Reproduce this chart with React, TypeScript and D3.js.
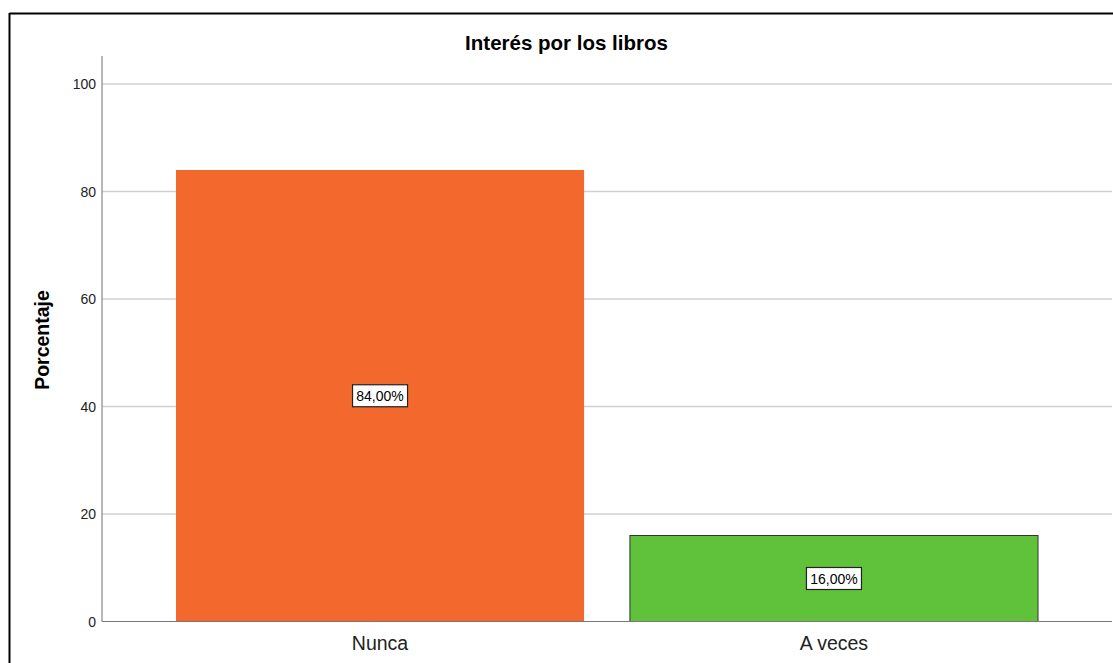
import React from "react";
import * as d3 from "d3";

const categories = ["Nunca", "A veces"];
const values = [84, 16];
const labels = ["84,00%", "16,00%"];
const colors = ["#F3692D", "#60C23B"];
const yTicks = [0, 20, 40, 60, 80, 100];

export default function App() {
  const W = 1113, H = 663;
  const left = 102, right = 1112, top = 56, bottom = 621.5;
  const y = d3.scaleLinear().domain([0, 100]).range([bottom, 84]);
  const x = d3.scaleBand<string>().domain(categories).range([left, right]).paddingInner(0.101).paddingOuter(0.163);
  const font = "'Liberation Sans', Arial, sans-serif";
  return (
    <svg width={W} height={H} style={{ position: "absolute", left: 0, top: 0, display: "block" }} fontFamily={font}>
      <rect x={0} y={0} width={W} height={H} fill="#fff" />
      {/* frame */}
      <line x1={9.5} y1={13.5} x2={W} y2={13.5} stroke="#000" strokeWidth={2} />
      <line x1={9.5} y1={13} x2={9.5} y2={H} stroke="#000" strokeWidth={2} />
      <text x={566.5} y={49.5} textAnchor="middle" fontSize={20.5} fontWeight="bold" fill="#000">Interés por los libros</text>
      {/* gridlines */}
      {yTicks.filter(t => t > 0).map(t => (
        <line key={t} x1={left} x2={right} y1={y(t)} y2={y(t)} stroke="#d0d0d0" strokeWidth={1.5} />
      ))}
      {yTicks.map(t => (
        <text key={"l" + t} x={left - 6} y={y(t) + 5} textAnchor="end" fontSize={14} fill="#222">{t}</text>
      ))}
      <text transform={`translate(48.5,340) rotate(-90)`} textAnchor="middle" fontSize={19.5} fontWeight="bold" fill="#000">Porcentaje</text>
      {/* bars */}
      {categories.map((c, i) => (
        <rect key={c} x={x(c)} y={y(values[i])} width={x.bandwidth()} height={bottom - y(values[i])}
          fill={colors[i]} stroke={i === 1 ? "#333" : "none"} strokeWidth={1} />
      ))}
      {/* axes */}
      <line x1={left} x2={left} y1={top} y2={bottom} stroke="#888" strokeWidth={1.2} />
      <line x1={left} x2={right} y1={bottom} y2={bottom} stroke="#777" strokeWidth={1.2} />
      {categories.map(c => (
        <text key={"x" + c} x={x(c)! + x.bandwidth() / 2} y={650} textAnchor="middle" fontSize={19.5} fill="#222">{c}</text>
      ))}
      {/* value labels */}
      {categories.map((c, i) => {
        const cx = x(c)! + x.bandwidth() / 2;
        const cy = y(values[i] / 2);
        const w = 55, h = 22;
        return (
          <g key={"v" + c}>
            <rect x={cx - w / 2} y={cy - h / 2} width={w} height={h} fill="#fff" stroke="#222" strokeWidth={1.2} />
            <text x={cx} y={cy + 5} textAnchor="middle" fontSize={14} fill="#000">{labels[i]}</text>
          </g>
        );
      })}
    </svg>
  );
}
